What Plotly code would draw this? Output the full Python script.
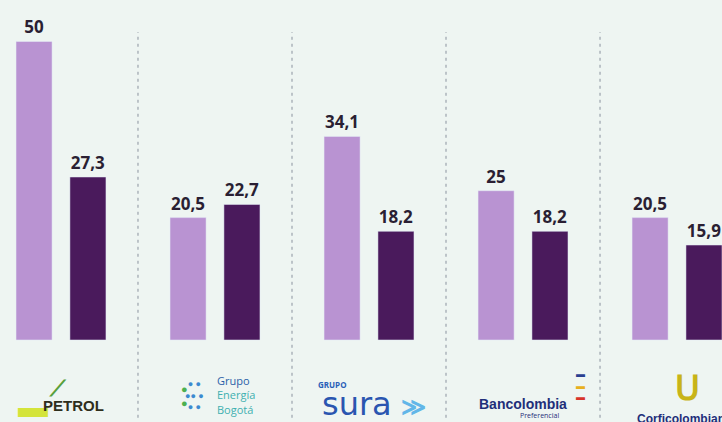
import plotly.graph_objects as go

companies = ["Ecopetrol", "Grupo Energía Bogotá", "Grupo Sura", "Bancolombia", "Corficolombiana"]
serie_a = [50, 20.5, 34.1, 25, 20.5]
serie_b = [27.3, 22.7, 18.2, 18.2, 15.9]

LIGHT = "#b993d2"
DARK = "#4a1a5c"
BG = "#eef5f2"

def fmt(v):
    return f"{v:g}".replace(".", ",")

xs = list(range(len(companies)))
W = 0.234
fig = go.Figure()
fig.add_bar(x=xs, y=serie_a, width=W, offset=-0.292, marker_color=LIGHT,
            text=[fmt(v) for v in serie_a], textposition="outside",
            constraintext="none", cliponaxis=False,
            textfont=dict(family="Open Sans", size=17, color="#2a1f33", weight="bold"))
fig.add_bar(x=xs, y=serie_b, width=W, offset=0.058, marker_color=DARK,
            text=[fmt(v) for v in serie_b], textposition="outside",
            constraintext="none", cliponaxis=False,
            textfont=dict(family="Open Sans", size=17, color="#2a1f33", weight="bold"))

shapes = []
for i in range(len(companies) - 1):
    shapes.append(dict(type="line", xref="x", yref="paper", x0=i + 0.5, x1=i + 0.5,
                       y0=0.01, y1=0.924, line=dict(color="#8a929e", width=1, dash="3px,4px")))

ann = []
F = "Open Sans"
N = "Liberation Sans Narrow, Liberation Sans"
# Ecopetrol
ann.append(dict(x=-0.18, y=-11.0, text="<b>▬</b>", showarrow=False,
                font=dict(family=F, size=30, color="#d4e43a"), xanchor="center"))
ann.append(dict(x=-0.02, y=-8.2, text="<b>⟋</b>", showarrow=False,
                font=dict(family="DejaVu Sans", size=22, color="#58a03c"), xanchor="center"))
ann.append(dict(x=0.08, y=-10.9, text="<b>PETROL</b>", showarrow=False,
                font=dict(family=N, size=15, color="#2e2e1c"), xanchor="center"))
# Grupo Energía Bogotá
ann.append(dict(x=0.87, y=-9.3, text="<b>● ●</b><br><b>●</b>● <b>●</b><br>● ●", showarrow=False,
                font=dict(family=F, size=9, color="#3b8ad0"), xanchor="center"))
ann.append(dict(x=0.80, y=-9.3, text="<b>●</b><br><b>●</b>", showarrow=False,
                font=dict(family=F, size=11, color="#4cb050"), xanchor="center"))
ann.append(dict(x=1.0, y=-9.3,
                text="<span style='color:#2a5fa8'>Grupo</span><br><span style='color:#3fb0b0'>Energía<br>Bogotá</span>",
                showarrow=False, font=dict(family=F, size=11), xanchor="left", align="left"))
# Sura
ann.append(dict(x=1.76, y=-7.4, text="<b>GRUPO</b>", showarrow=False,
                font=dict(family=F, size=8, color="#2a5fb8"), xanchor="center"))
ann.append(dict(x=1.92, y=-10.7, text="sura", showarrow=False,
                font=dict(family="DejaVu Sans", size=32, color="#2a55b0"), xanchor="center"))
ann.append(dict(x=2.29, y=-10.9, text="<b>≫</b>", showarrow=False,
                font=dict(family=F, size=24, color="#62b6e8"), xanchor="center"))
# Bancolombia
ann.append(dict(x=3.0, y=-10.7, text="<b>Bancolombia</b>", showarrow=False,
                font=dict(family=N, size=14, color="#1f2f7a"), xanchor="center"))
ann.append(dict(x=3.11, y=-12.7, text="Preferencial", showarrow=False,
                font=dict(family=F, size=7, color="#1f2f7a"), xanchor="center"))
ann.append(dict(x=3.37, y=-7.6, text="<b><span style='color:#2a3f90'>▬</span><br><span style='color:#e8b020'>▬</span><br><span style='color:#d8342a'>▬</span></b>",
                showarrow=False, font=dict(family=F, size=9), xanchor="center"))
# Corficolombiana
ann.append(dict(x=4.07, y=-7.8, text="<b>ᑌ</b>", showarrow=False,
                font=dict(family=F, size=34, color="#c8b418"), xanchor="center"))
ann.append(dict(x=4.05, y=-13.2, text="<b>Corficolombiana</b>", showarrow=False,
                font=dict(family=N, size=12, color="#1f2f7a"), xanchor="center"))

fig.update_layout(
    width=722, height=422, margin=dict(l=0, r=0, t=0, b=0),
    paper_bgcolor=BG, plot_bgcolor=BG, showlegend=False, barmode="overlay",
    xaxis=dict(range=[-0.396, 4.292], visible=False, fixedrange=True),
    yaxis=dict(range=[-13.74, 56.95], visible=False, fixedrange=True),
    shapes=shapes, annotations=ann,
)
fig.write_html("out.html", config={"displayModeBar": False},
               post_script="document.body.style.margin='0';document.body.style.overflow='hidden';")
